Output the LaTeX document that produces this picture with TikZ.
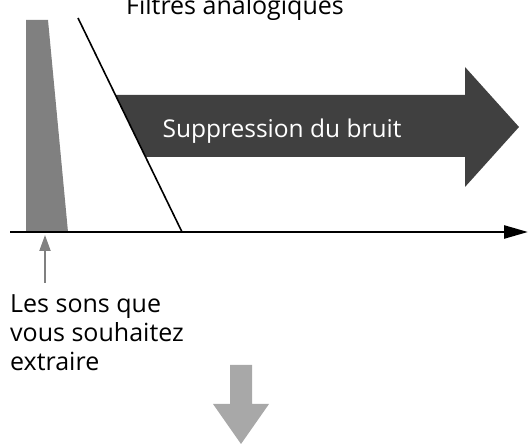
\documentclass[tikz,border=0pt]{standalone}
\usepackage{fontspec}
\setmainfont{Open Sans}
\usetikzlibrary{arrows.meta}
\definecolor{midgray}{HTML}{808080}
\definecolor{darkfill}{HTML}{404040}
\definecolor{lightfill}{HTML}{A8A8A8}
\begin{document}
\begin{tikzpicture}[x=1pt,y=-1pt,
  txt/.style={inner sep=0pt, font=\fontsize{25}{29}\selectfont},
  bigtxt/.style={inner sep=0pt, font=\fontsize{24.5}{28}\selectfont, text=white},
  axisline/.style={line width=2.5pt, -{Triangle[length=24pt,width=13pt]}},
  filterline/.style={line width=1.6pt},
  pointer/.style={midgray, line width=2pt, -{Triangle[length=16pt,width=11pt]}}]
\useasboundingbox (0,0) rectangle (531,446);
% wanted sound band
\fill[midgray] (26,20) -- (48,20) -- (68,232) -- (26,232) -- cycle;
% noise suppression arrow
\fill[darkfill] (115.4,95) -- (465,95) -- (465,67) -- (519,127) -- (465,187) -- (465,157) -- (145.6,157) -- cycle;
\node[bigtxt, anchor=base] (sup) at (282,138) {Suppression du bruit};
% filter slope
\coordinate (f1) at (78,18);
\coordinate (f2) at (182,232);
\draw[filterline] (f1) -- (f2);
% axis
\coordinate (a0) at (10,232);
\coordinate (a1) at (528,232);
\draw[axisline] (a0) -- (a1);
% title
\node[txt, anchor=base] (title) at (235,15) {Filtres analogiques};
% label and pointer
\node[txt, anchor=north west, align=left] (lbl) at (10,294) {Les sons que\\vous souhaitez\\extraire};
\coordinate (ps) at (45,283);
\coordinate (pt) at (45,235);
\draw[pointer] (ps) -- (pt);
% down arrow
\fill[lightfill] (230,365) -- (252,365) -- (252,404) -- (269,404) -- (241,444) -- (213,404) -- (230,404) -- cycle;
\end{tikzpicture}
\end{document}
